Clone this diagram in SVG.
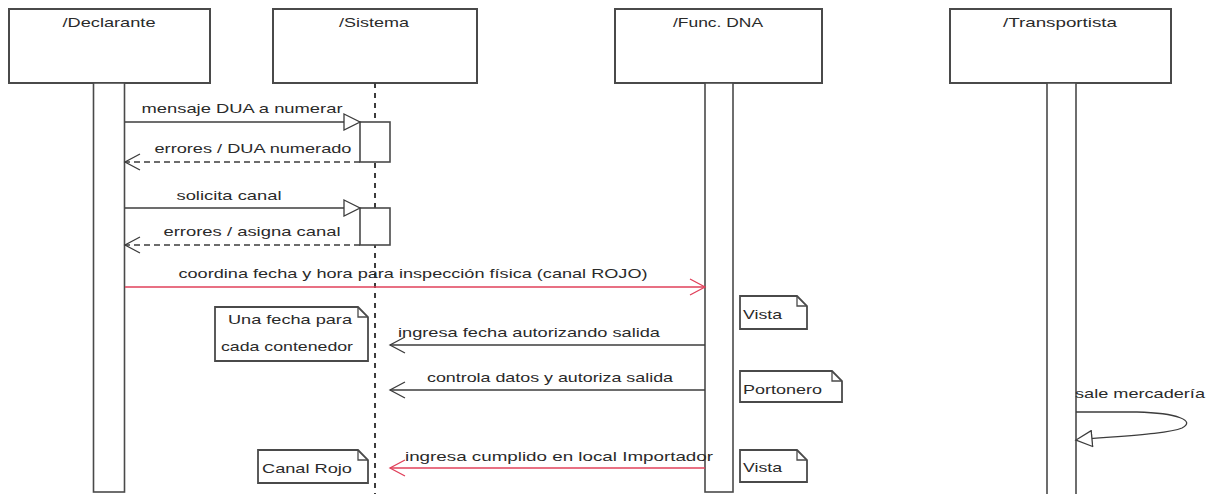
<svg xmlns="http://www.w3.org/2000/svg" width="1208" height="494" viewBox="0 0 1208 494">
<style>
text{font-family:"Liberation Sans",Arial,sans-serif;font-size:13px;fill:#2a2a2a}
.hdr{fill:#fff;stroke:#4a4a4a;stroke-width:2}
.bar{fill:#fff;stroke:#4a4a4a;stroke-width:1.6}
.note{fill:#fff;stroke:#4a4a4a;stroke-width:1.8}
.fold{fill:none;stroke:#4a4a4a;stroke-width:1.3}
.msg{fill:none;stroke:#3c3c3c;stroke-width:1.3}
.ret{fill:none;stroke:#3c3c3c;stroke-width:1.3;stroke-dasharray:6,4}
.red{fill:none;stroke:#e0405a;stroke-width:1.3}
.life{stroke:#3c3c3c;stroke-width:2;stroke-dasharray:5,5}
.c{text-anchor:middle}
</style>
<defs>
<marker id="open" markerWidth="18" markerHeight="18" refX="16" refY="9" orient="auto" markerUnits="userSpaceOnUse"><path d="M1,1 L16,9 L1,17" fill="none" stroke="#3c3c3c" stroke-width="1.3"/></marker>
<marker id="openRed" markerWidth="18" markerHeight="18" refX="16" refY="9" orient="auto" markerUnits="userSpaceOnUse"><path d="M1,1 L16,9 L1,17" fill="none" stroke="#e0405a" stroke-width="1.3"/></marker>
<marker id="tri" markerWidth="19" markerHeight="18" refX="17" refY="9" orient="auto" markerUnits="userSpaceOnUse"><path d="M1,1 L17,9 L1,17 Z" fill="#fff" stroke="#3c3c3c" stroke-width="1.3"/></marker>
</defs>

<g id="declarante">
<rect class="hdr" x="9" y="9" width="201" height="74"/>
<text class="c" x="109" y="27" textLength="93" lengthAdjust="spacingAndGlyphs">/Declarante</text>
<rect class="bar" x="93.5" y="83" width="31" height="409"/>
</g>

<g id="sistema">
<rect class="hdr" x="273" y="9" width="204" height="74"/>
<text class="c" x="374" y="27" textLength="70" lengthAdjust="spacingAndGlyphs">/Sistema</text>
<line class="life" x1="375" y1="83" x2="375" y2="494"/>
<rect class="bar" x="360" y="122" width="30" height="40"/>
<rect class="bar" x="360" y="208" width="30" height="37"/>
</g>

<g id="func-dna">
<rect class="hdr" x="615" y="9" width="207" height="74"/>
<text class="c" x="718" y="27" textLength="90" lengthAdjust="spacingAndGlyphs">/Func. DNA</text>
<rect class="bar" x="705" y="83" width="28" height="409"/>
</g>

<g id="transportista">
<rect class="hdr" x="950" y="9" width="221" height="74"/>
<text class="c" x="1060" y="27" textLength="114" lengthAdjust="spacingAndGlyphs">/Transportista</text>
<rect class="bar" x="1047" y="83" width="29" height="412"/>
</g>

<g id="note-fecha">
<path class="note" d="M215,307 H358 L368,317 V361 H215 Z"/>
<path class="fold" d="M358,307 V317 H368"/>
<text class="c" x="290" y="324" textLength="124" lengthAdjust="spacingAndGlyphs">Una fecha para</text>
<text class="c" x="287" y="351" textLength="132" lengthAdjust="spacingAndGlyphs">cada contenedor</text>
</g>

<g id="note-canal-rojo">
<path class="note" d="M258,450 H358 L368,460 V483 H258 Z"/>
<path class="fold" d="M358,450 V460 H368"/>
<text x="262" y="473" textLength="90" lengthAdjust="spacingAndGlyphs">Canal Rojo</text>
</g>

<g id="note-vista-1">
<path class="note" d="M740,296 H797 L807,306 V329 H740 Z"/>
<path class="fold" d="M797,296 V306 H807"/>
<text x="743" y="319" textLength="39" lengthAdjust="spacingAndGlyphs">Vista</text>
</g>

<g id="note-portonero">
<path class="note" d="M740,371 H832 L842,381 V402 H740 Z"/>
<path class="fold" d="M832,371 V381 H842"/>
<text x="743" y="394" textLength="79" lengthAdjust="spacingAndGlyphs">Portonero</text>
</g>

<g id="note-vista-2">
<path class="note" d="M740,450 H797 L807,460 V482 H740 Z"/>
<path class="fold" d="M797,450 V460 H807"/>
<text x="743" y="472" textLength="39" lengthAdjust="spacingAndGlyphs">Vista</text>
</g>

<g id="connectors">
<line class="msg" x1="125" y1="122" x2="360" y2="122" marker-end="url(#tri)"/>
<text class="c" x="242" y="113" textLength="201" lengthAdjust="spacingAndGlyphs">mensaje DUA a numerar</text>

<line class="ret" x1="360" y1="162" x2="125" y2="162" marker-end="url(#open)"/>
<text class="c" x="253" y="153" textLength="197" lengthAdjust="spacingAndGlyphs">errores / DUA numerado</text>

<line class="msg" x1="125" y1="208" x2="360" y2="208" marker-end="url(#tri)"/>
<text class="c" x="229" y="200" textLength="105" lengthAdjust="spacingAndGlyphs">solicita canal</text>

<line class="ret" x1="360" y1="245" x2="125" y2="245" marker-end="url(#open)"/>
<text class="c" x="252" y="236" textLength="177" lengthAdjust="spacingAndGlyphs">errores / asigna canal</text>

<line class="red" x1="125" y1="287" x2="705" y2="287" marker-end="url(#openRed)"/>
<text class="c" x="413" y="278" textLength="469" lengthAdjust="spacingAndGlyphs">coordina fecha y hora para inspección física (canal ROJO)</text>

<line class="msg" x1="705" y1="345" x2="390" y2="345" marker-end="url(#open)"/>
<text x="398" y="337" textLength="262" lengthAdjust="spacingAndGlyphs">ingresa fecha autorizando salida</text>

<line class="msg" x1="705" y1="390" x2="390" y2="390" marker-end="url(#open)"/>
<text x="427" y="382" textLength="246" lengthAdjust="spacingAndGlyphs">controla datos y autoriza salida</text>

<line class="red" x1="705" y1="468" x2="390" y2="468" marker-end="url(#openRed)"/>
<text x="405" y="461" textLength="308" lengthAdjust="spacingAndGlyphs">ingresa cumplido en local Importador</text>

<path class="msg" d="M1076,412 H1137 C1178,413 1196,421 1182,428 C1168,434 1120,436 1076,440" marker-end="url(#tri)"/>
<text x="1075" y="398" textLength="130" lengthAdjust="spacingAndGlyphs">sale mercadería</text>
</g>
</svg>
